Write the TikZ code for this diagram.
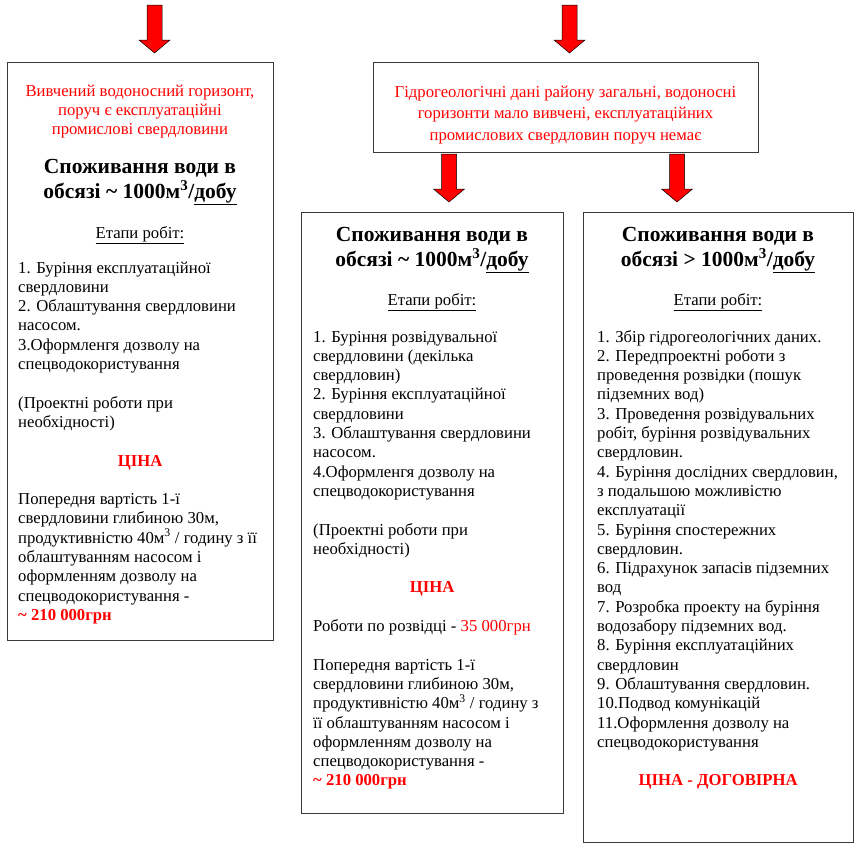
\documentclass[tikz,border=0pt]{standalone}
\usepackage{fontspec}
\setmainfont{Liberation Serif}
\definecolor{boxline}{HTML}{3A3A3A}
\definecolor{pred}{HTML}{FF0000}
\newcommand\body{\fontsize{16.7}{19.3}\selectfont}
\newcommand\ttl{\bfseries\fontsize{21.5}{25}\selectfont}
\newcommand\blockarrow[3]{%
  \draw[blockarr] (#1-7.5,#2) -- (#1+7.5,#2) -- (#1+7.5,#3-13) -- (#1+15.5,#3-13)
    -- (#1,#3) -- (#1-15.5,#3-13) -- (#1-7.5,#3-13) -- cycle;}
\begin{document}
\begin{tikzpicture}[x=1pt,y=-1pt,
  box/.style={draw=boxline,line width=1.3pt,inner sep=0pt,anchor=north west},
  txt/.style={inner sep=0pt},
  blockarr/.style={fill=pred,draw=black,line width=0.5pt,line join=miter}]
\useasboundingbox[fill=white] (0,0) rectangle (860,849);

% boxes
\node[box,minimum width=266pt,minimum height=578pt] (lbox) at (7,62) {};
\node[box,minimum width=385pt,minimum height=90pt] (tbox) at (373,62) {};
\node[box,minimum width=262pt,minimum height=601pt] (mbox) at (301,212) {};
\node[box,minimum width=270pt,minimum height=630pt] (rbox) at (583,212) {};

% arrows
\blockarrow{154.5}{5}{53}
\blockarrow{569.5}{5}{53}
\blockarrow{449}{154}{202}
\blockarrow{677}{154}{202}

% left box
\node[txt,anchor=base] (lred) at (140,85) {\begin{minipage}[t]{262pt}\centering\fontsize{16.7}{19}\selectfont\color{pred}
Вивчений водоносний горизонт,\\ поруч є експлуатаційні\\ промислові свердловини\end{minipage}};
\node[txt,anchor=base] (ltitle) at (140,173.5) {\begin{minipage}[t]{262pt}\centering\ttl
Споживання води в\\ обсязі \textasciitilde{} 1000м\textsuperscript{3}/\underline{добу}\end{minipage}};
\node[txt,anchor=base] (letap) at (140,238) {\body\underline{Етапи робіт:}};
\node[txt,anchor=base west] (llist) at (18,273) {\begin{minipage}[t]{300pt}\raggedright\body
1. Буріння експлуатаційної\\
свердловини\\
2. Облаштування свердловини\\
насосом.\\
3.Оформленгя дозволу на\\
спецводокористування\\
\mbox{}\\
(Проектні роботи при\\
необхідності)\\
\mbox{}\\
\makebox[244pt][c]{\bfseries\color{pred}ЦІНА}\\
\mbox{}\\
Попередня вартість 1-ї\\
свердловини глибиною 30м,\\
продуктивністю 40м\textsuperscript{3} / годину з її\\
облаштуванням насосом і\\
оформленням дозволу на\\
спецводокористування -\\
{\bfseries\color{pred}\textasciitilde{} 210 000грн}\end{minipage}};

% top box
\node[txt,anchor=base] (tred) at (565.5,86) {\begin{minipage}[t]{380pt}\centering\fontsize{16.7}{21.5}\selectfont\color{pred}
Гідрогеологічні дані району загальні, водоносні\\ горизонти мало вивчені, експлуатаційних\\ промислових свердловин поруч немає\end{minipage}};

% middle box
\node[txt,anchor=base] (mtitle) at (432,241.5) {\begin{minipage}[t]{258pt}\centering\ttl
Споживання води в\\ обсязі \textasciitilde{} 1000м\textsuperscript{3}/\underline{добу}\end{minipage}};
\node[txt,anchor=base] (metap) at (432,305) {\body\underline{Етапи робіт:}};
\node[txt,anchor=base west] (mlist) at (313,342) {\begin{minipage}[t]{300pt}\raggedright\body
1. Буріння розвідувальної\\
свердловини (декілька\\
свердловин)\\
2. Буріння експлуатаційної\\
свердловини\\
3. Облаштування свердловини\\
насосом.\\
4.Оформленгя дозволу на\\
спецводокористування\\
\mbox{}\\
(Проектні роботи при\\
необхідності)\\
\mbox{}\\
\makebox[238pt][c]{\bfseries\color{pred}ЦІНА}\\
\mbox{}\\
Роботи по розвідці - {\color{pred}35 000грн}\\
\mbox{}\\
Попередня вартість 1-ї\\
свердловини глибиною 30м,\\
продуктивністю 40м\textsuperscript{3} / годину з\\
її облаштуванням насосом і\\
оформленням дозволу на\\
спецводокористування -\\
{\bfseries\color{pred}\textasciitilde{} 210 000грн}\end{minipage}};

% right box
\node[txt,anchor=base] (rtitle) at (718,241.5) {\begin{minipage}[t]{266pt}\centering\ttl
Споживання води в\\ обсязі > 1000м\textsuperscript{3}/\underline{добу}\end{minipage}};
\node[txt,anchor=base] (retap) at (718,305) {\body\underline{Етапи робіт:}};
\node[txt,anchor=base west] (rlist) at (597,342) {\begin{minipage}[t]{300pt}\raggedright\body
1. Збір гідрогеологічних даних.\\
2. Передпроектні роботи з\\
проведення розвідки (пошук\\
підземних вод)\\
3. Проведення розвідувальних\\
робіт, буріння розвідувальних\\
свердловин.\\
4. Буріння дослідних свердловин,\\
з подальшою можливістю\\
експлуатації\\
5. Буріння спостережних\\
свердловин.\\
6. Підрахунок запасів підземних\\
вод\\
7. Розробка проекту на буріння\\
водозабору підземних вод.\\
8. Буріння експлуатаційних\\
свердловин\\
9. Облаштування свердловин.\\
10.Подвод комунікацій\\
11.Оформлення дозволу на\\
спецводокористування\\
\mbox{}\\
\makebox[242pt][c]{\bfseries\color{pred}ЦІНА - ДОГОВІРНА}\end{minipage}};
\end{tikzpicture}
\end{document}
